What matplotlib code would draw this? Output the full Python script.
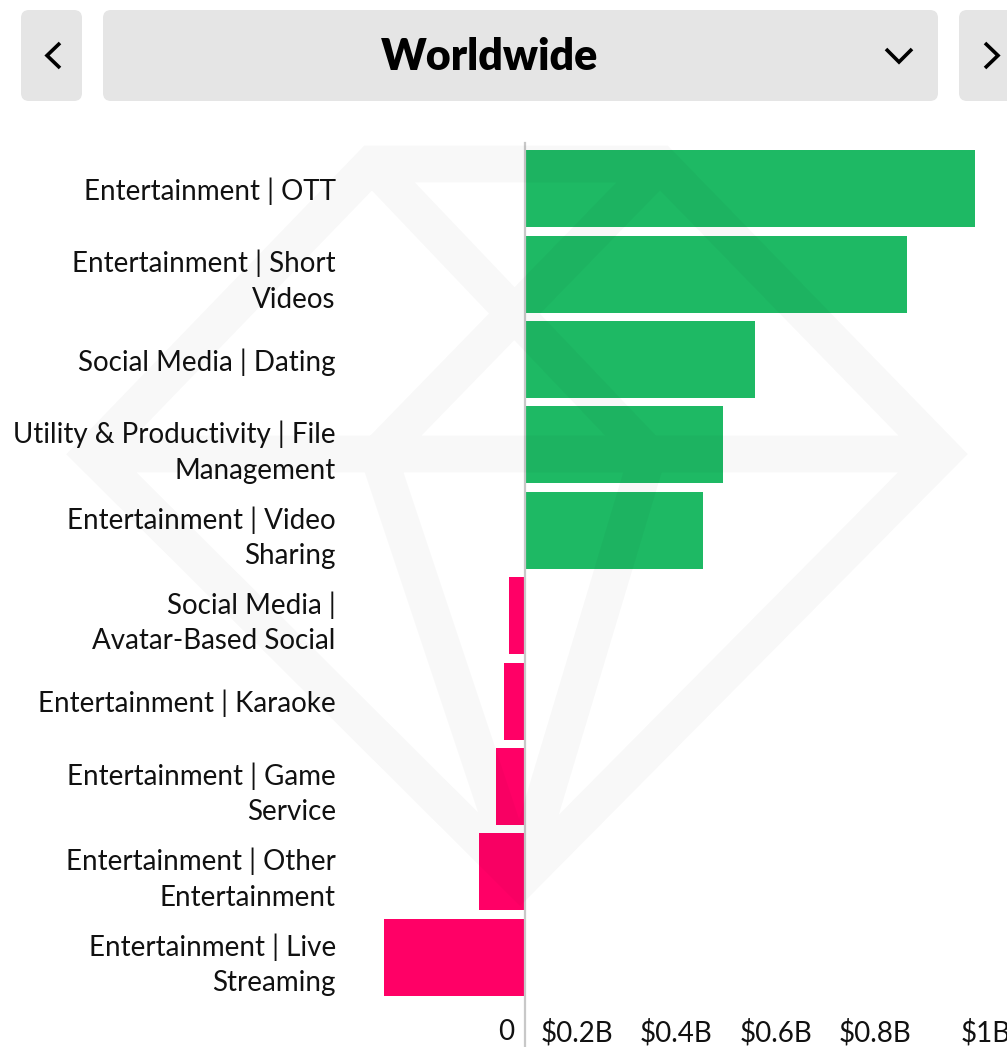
import matplotlib
matplotlib.use("Agg")
import matplotlib.pyplot as plt
from matplotlib.patches import FancyBboxPatch
from matplotlib.path import Path
from matplotlib.patches import PathPatch
from matplotlib.transforms import ScaledTranslation

plt.rcParams['font.family'] = ['Lato', 'DejaVu Sans']

# ---- data ----
categories = [
    "Entertainment | OTT",
    "Entertainment | Short\nVideos",
    "Social Media | Dating",
    "Utility & Productivity | File\nManagement",
    "Entertainment | Video\nSharing",
    "Social Media |\nAvatar-Based Social",
    "Entertainment | Karaoke",
    "Entertainment | Game\nService",
    "Entertainment | Other\nEntertainment",
    "Entertainment | Live\nStreaming",
]
values_billion = [0.906, 0.769, 0.463, 0.399, 0.358, -0.032, -0.042, -0.058, -0.093, -0.284]
tick_values = [0, 0.2, 0.4, 0.6, 0.8, 1.0]
tick_labels = ["0", "$0.2B", "$0.4B", "$0.6B", "$0.8B", "$1B"]
title = "Worldwide"

GREEN = "#1EB964"
PINK = "#FF0066"
W, H = 1007, 1047
fig = plt.figure(figsize=(W / 100, H / 100), dpi=100)
fig.patch.set_facecolor("white")

# main axes in pixel layout (extends slightly past the right edge, like the source)
ax_left, ax_right = 340, 1030
ax_top, ax_bottom = 146, 1000
ax = fig.add_axes([ax_left / W, 1 - ax_bottom / H, (ax_right - ax_left) / W, (ax_bottom - ax_top) / H])
ax.set_facecolor("none")
zero_px, px_per_b = 525, 497.0

colors = [GREEN if v >= 0 else PINK for v in values_billion]
ax.barh(range(len(categories)), values_billion, height=0.9, color=colors, zorder=2)
ax.axvline(0, ymin=-0.06, ymax=1.004, color="#c8c8c8", lw=1.6, clip_on=False, zorder=3)

for s in ax.spines.values():
    s.set_visible(False)
ax.set_yticks(range(len(categories)))
ax.set_yticklabels(categories, fontsize=20, color="#111111", linespacing=1.45, ha="right")
ax.tick_params(axis="y", length=0, pad=3)
ax.set_xticks(tick_values)
ax.set_xticklabels(tick_labels, fontsize=20, color="#111111", ha="right")
ax.tick_params(axis="x", length=0, pad=14)
off = ScaledTranslation(-11 / 100, 0, fig.dpi_scale_trans)
for lbl in ax.get_xticklabels():
    lbl.set_transform(lbl.get_transform() + off)
# limits after ticks (set_xticks may widen the view)
ax.set_xlim((ax_left - zero_px) / px_per_b, (ax_right - zero_px) / px_per_b)
ax.set_ylim(len(categories) - 0.5, -0.5)

# overlay in pixel coordinates for header and watermark
ov = fig.add_axes([0, 0, 1, 1], zorder=5)
ov.set_xlim(0, W)
ov.set_ylim(H, 0)
ov.axis("off")
ov.patch.set_alpha(0)

for (x0, x1) in [(21, 82), (103, 938), (959, 1030)]:
    ov.add_patch(FancyBboxPatch((x0, 10), x1 - x0, 91,
                                boxstyle="round,pad=0,rounding_size=8",
                                fc="#E5E5E5", ec="none"))
ov.text(490, 57, title, fontsize=31, fontweight="heavy", ha="center", va="center", color="#000000")
lw_ch = 2.6
ov.plot([60, 47, 60], [43, 55.5, 68], color="black", lw=lw_ch, solid_joinstyle="miter", solid_capstyle="butt")
ov.plot([886, 899, 912], [49, 62, 49], color="black", lw=lw_ch, solid_joinstyle="miter", solid_capstyle="butt")
ov.plot([985, 998, 985], [43, 55.5, 68], color="black", lw=lw_ch, solid_joinstyle="miter", solid_capstyle="butt")

# watermark gem (thick translucent strokes)
TL, TR = (372, 164), (660, 164)
L, R = (92, 454), (942, 454)
B = (520, 880)
GL, GR = (378, 454), (648, 454)
verts = [TL, TR, R, B, L, TL,
         L, R,
         TL, GR,
         TR, GL,
         GL, B,
         GR, B]
codes = [Path.MOVETO, Path.LINETO, Path.LINETO, Path.LINETO, Path.LINETO, Path.CLOSEPOLY,
         Path.MOVETO, Path.LINETO,
         Path.MOVETO, Path.LINETO,
         Path.MOVETO, Path.LINETO,
         Path.MOVETO, Path.LINETO,
         Path.MOVETO, Path.LINETO]
ov.add_patch(PathPatch(Path(verts, codes), fc="none", ec=(0, 0, 0, 0.028),
                       lw=26.5, joinstyle="miter", capstyle="butt"))

fig.savefig("out.png", dpi=100, facecolor="white")
